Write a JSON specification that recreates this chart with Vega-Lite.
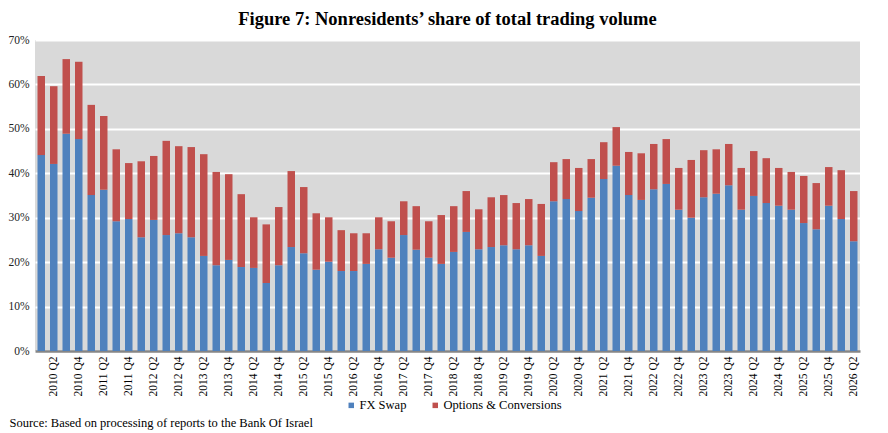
{
  "$schema": "https://vega.github.io/schema/vega-lite/v6.json",
  "autosize": {"type": "none"},
  "padding": {"left": 35, "top": 40, "right": 28, "bottom": 82},
  "width": 825,
  "height": 311,
  "background": "white",
  "title": {
    "text": "Figure 7:  Nonresidents’ share of total trading volume",
    "font": "Liberation Serif",
    "fontSize": 18.5,
    "fontWeight": "bold",
    "color": "black",
    "anchor": "middle",
    "offset": 6
  },
  "config": {
    "font": "Liberation Serif",
    "view": {"fill": "#D9D9D9", "stroke": null},
    "axis": {"labelFont": "Liberation Serif", "titleFont": "Liberation Serif"},
    "legend": {"labelFont": "Liberation Serif"}
  },
  "data": {
    "values": [
      {"q": "2010 Q1", "fx": 44.1, "opt": 17.8},
      {"q": "2010 Q2", "fx": 42.1, "opt": 17.5},
      {"q": "2010 Q3", "fx": 48.9, "opt": 16.8},
      {"q": "2010 Q4", "fx": 47.7, "opt": 17.4},
      {"q": "2011 Q1", "fx": 35.1, "opt": 20.3},
      {"q": "2011 Q2", "fx": 36.3, "opt": 16.6},
      {"q": "2011 Q3", "fx": 29.2, "opt": 16.2},
      {"q": "2011 Q4", "fx": 29.7, "opt": 12.6},
      {"q": "2012 Q1", "fx": 25.6, "opt": 17.1},
      {"q": "2012 Q2", "fx": 29.5, "opt": 14.4},
      {"q": "2012 Q3", "fx": 26.1, "opt": 21.2},
      {"q": "2012 Q4", "fx": 26.5, "opt": 19.6},
      {"q": "2013 Q1", "fx": 25.6, "opt": 20.3},
      {"q": "2013 Q2", "fx": 21.4, "opt": 22.9},
      {"q": "2013 Q3", "fx": 19.3, "opt": 21.0},
      {"q": "2013 Q4", "fx": 20.5, "opt": 19.3},
      {"q": "2014 Q1", "fx": 18.9, "opt": 16.4},
      {"q": "2014 Q2", "fx": 18.7, "opt": 11.4},
      {"q": "2014 Q3", "fx": 15.3, "opt": 13.2},
      {"q": "2014 Q4", "fx": 19.3, "opt": 13.1},
      {"q": "2015 Q1", "fx": 23.4, "opt": 17.1},
      {"q": "2015 Q2", "fx": 22.0, "opt": 14.9},
      {"q": "2015 Q3", "fx": 18.3, "opt": 12.7},
      {"q": "2015 Q4", "fx": 20.1, "opt": 10.0},
      {"q": "2016 Q1", "fx": 18.0, "opt": 9.2},
      {"q": "2016 Q2", "fx": 18.0, "opt": 8.5},
      {"q": "2016 Q3", "fx": 19.6, "opt": 6.9},
      {"q": "2016 Q4", "fx": 22.9, "opt": 7.2},
      {"q": "2017 Q1", "fx": 21.0, "opt": 8.2},
      {"q": "2017 Q2", "fx": 26.1, "opt": 7.6},
      {"q": "2017 Q3", "fx": 22.8, "opt": 9.8},
      {"q": "2017 Q4", "fx": 21.0, "opt": 8.2},
      {"q": "2018 Q1", "fx": 19.6, "opt": 11.0},
      {"q": "2018 Q2", "fx": 22.3, "opt": 10.3},
      {"q": "2018 Q3", "fx": 26.8, "opt": 9.2},
      {"q": "2018 Q4", "fx": 22.9, "opt": 9.0},
      {"q": "2019 Q1", "fx": 23.4, "opt": 11.2},
      {"q": "2019 Q2", "fx": 23.8, "opt": 11.3},
      {"q": "2019 Q3", "fx": 22.9, "opt": 10.4},
      {"q": "2019 Q4", "fx": 23.8, "opt": 10.4},
      {"q": "2020 Q1", "fx": 21.4, "opt": 11.7},
      {"q": "2020 Q2", "fx": 33.7, "opt": 8.8},
      {"q": "2020 Q3", "fx": 34.2, "opt": 9.0},
      {"q": "2020 Q4", "fx": 31.5, "opt": 9.7},
      {"q": "2021 Q1", "fx": 34.5, "opt": 8.7},
      {"q": "2021 Q2", "fx": 38.7, "opt": 8.3},
      {"q": "2021 Q3", "fx": 41.7, "opt": 8.7},
      {"q": "2021 Q4", "fx": 35.1, "opt": 9.7},
      {"q": "2022 Q1", "fx": 34.0, "opt": 10.5},
      {"q": "2022 Q2", "fx": 36.4, "opt": 10.2},
      {"q": "2022 Q3", "fx": 37.6, "opt": 10.1},
      {"q": "2022 Q4", "fx": 31.8, "opt": 9.4},
      {"q": "2023 Q1", "fx": 30.0, "opt": 13.0},
      {"q": "2023 Q2", "fx": 34.6, "opt": 10.6},
      {"q": "2023 Q3", "fx": 35.4, "opt": 10.0},
      {"q": "2023 Q4", "fx": 37.3, "opt": 9.3},
      {"q": "2024 Q1", "fx": 31.8, "opt": 9.4},
      {"q": "2024 Q2", "fx": 34.9, "opt": 10.1},
      {"q": "2024 Q3", "fx": 33.3, "opt": 10.1},
      {"q": "2024 Q4", "fx": 32.7, "opt": 8.5},
      {"q": "2025 Q1", "fx": 31.8, "opt": 8.5},
      {"q": "2025 Q2", "fx": 28.8, "opt": 10.6},
      {"q": "2025 Q3", "fx": 27.4, "opt": 10.4},
      {"q": "2025 Q4", "fx": 32.7, "opt": 8.7},
      {"q": "2026 Q1", "fx": 29.7, "opt": 11.0},
      {"q": "2026 Q2", "fx": 24.7, "opt": 11.3}
    ]
  },
  "transform": [
    {"fold": ["fx", "opt"], "as": ["type", "value"]}
  ],
  "mark": {"type": "bar"},
  "encoding": {
    "x": {
      "field": "q",
      "type": "ordinal",
      "sort": null,
      "scale": {"paddingInner": 0.4, "paddingOuter": 0.2},
      "axis": {
        "title": "Source:  Based on processing of reports to the Bank Of Israel",
        "titleFont": "Liberation Serif",
        "titleFontSize": 12.5,
        "titleFontWeight": "normal",
        "titleColor": "black",
        "titleAnchor": "start",
        "titleAlign": "left",
        "titleBaseline": "middle",
        "titleX": -26,
        "titleY": 71,
        "labelAngle": -90,
        "labelFont": "Liberation Serif",
        "labelFontSize": 11.5,
        "labelColor": "black",
        "labelPadding": 5,
        "labelExpr": "test(/Q[24]/, datum.label) ? datum.label : ''",
        "ticks": false,
        "domainColor": "#868686",
        "domainWidth": 2.5,
        "grid": false
      }
    },
    "y": {
      "field": "value",
      "type": "quantitative",
      "stack": "zero",
      "scale": {"domain": [0, 70]},
      "axis": {
        "title": null,
        "values": [0, 10, 20, 30, 40, 50, 60, 70],
        "labelExpr": "datum.value + '%'",
        "labelFont": "Liberation Serif",
        "labelFontSize": 11.5,
        "labelColor": "#222222",
        "labelPadding": 6,
        "ticks": false,
        "domain": false,
        "grid": true,
        "gridColor": "white",
        "gridWidth": 2
      }
    },
    "color": {
      "field": "type",
      "type": "nominal",
      "scale": {"domain": ["fx", "opt"], "range": ["#4F81BD", "#C0504D"]},
      "legend": {
        "title": null,
        "orient": "none",
        "direction": "horizontal",
        "legendX": 310,
        "legendY": 359,
        "symbolType": "square",
        "symbolSize": 30,
        "symbolStrokeWidth": 0,
        "labelFont": "Liberation Serif",
        "labelFontSize": 12.5,
        "labelColor": "black",
        "labelOffset": 2,
        "columnPadding": 22,
        "labelExpr": "datum.label == 'fx' ? 'FX Swap' : 'Options & Conversions'"
      }
    },
    "order": {"field": "type", "sort": "ascending"}
  }
}
